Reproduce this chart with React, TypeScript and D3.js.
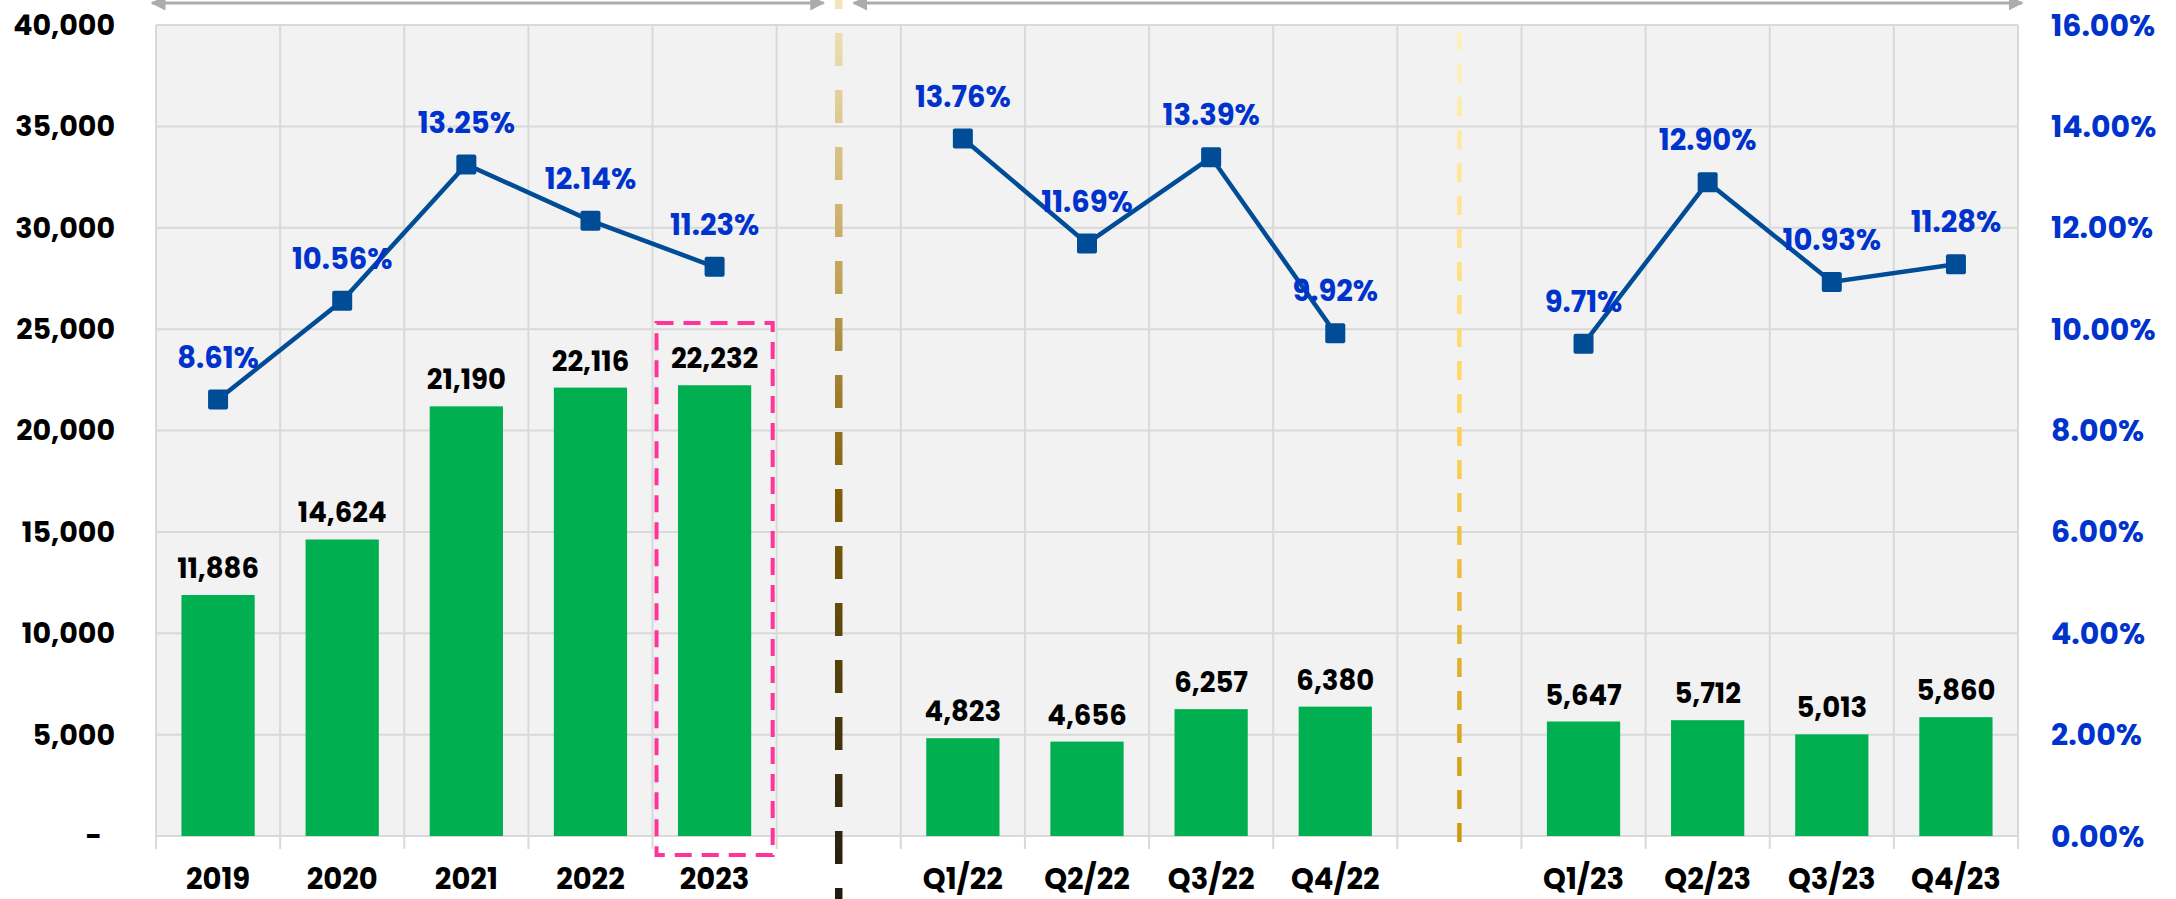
import React from "react";
import * as d3 from "d3";

const yearCats = ["2019", "2020", "2021", "2022", "2023"];
const yearVolume = [11886, 14624, 21190, 22116, 22232];
const yearRate = [8.61, 10.56, 13.25, 12.14, 11.23];

const q22Cats = ["Q1/22", "Q2/22", "Q3/22", "Q4/22"];
const q22Volume = [4823, 4656, 6257, 6380];
const q22Rate = [13.76, 11.69, 13.39, 9.92];

const q23Cats = ["Q1/23", "Q2/23", "Q3/23", "Q4/23"];
const q23Volume = [5647, 5712, 5013, 5860];
const q23Rate = [9.71, 12.9, 10.93, 11.28];

const leftTicks = [0, 5000, 10000, 15000, 20000, 25000, 30000, 35000, 40000];
const rightTicks = [0, 0.02, 0.04, 0.06, 0.08, 0.1, 0.12, 0.14, 0.16];

const GAP1 = "gap-1";
const GAP2 = "gap-2";

const W = 2176;
const H = 899;
const FONT = "Poppins, Inter, 'Noto Sans', sans-serif";

type Pt = { cat: string; vol: number; rate: number };

const groups: Pt[][] = [
  yearCats.map((c, i) => ({ cat: c, vol: yearVolume[i], rate: yearRate[i] / 100 })),
  q22Cats.map((c, i) => ({ cat: c, vol: q22Volume[i], rate: q22Rate[i] / 100 })),
  q23Cats.map((c, i) => ({ cat: c, vol: q23Volume[i], rate: q23Rate[i] / 100 })),
];

export default function App() {
  const domain = [...yearCats, GAP1, ...q22Cats, GAP2, ...q23Cats];
  const x = d3.scaleBand<string>().domain(domain).range([156, 2018]).padding(0);
  const yL = d3.scaleLinear().domain([0, 40000]).range([836, 25]);
  const yR = d3.scaleLinear().domain([0, 0.16]).range([836, 25]);
  const bw = x.bandwidth();
  const barW = bw * 0.59;
  const all = groups.flat();
  const fmt = d3.format(",");
  const pct = d3.format(".2%");
  const line = d3
    .line<Pt>()
    .x((d) => (x(d.cat) as number) + bw / 2)
    .y((d) => yR(d.rate));

  const plotL = x.range()[0];
  const plotR = x.range()[1];
  const boundaries = d3.range(domain.length + 1).map((i) => plotL + i * bw);
  const div1 = (x(GAP1) as number) + bw / 2;
  const div2 = (x(GAP2) as number) + bw / 2;
  const x2023 = x("2023") as number;

  return (
    <svg
      width={W}
      height={H}
      style={{ position: "absolute", left: 0, top: 0, background: "#fff" }}
      fontFamily={FONT}
    >
      <defs>
        <linearGradient id="divGrad1" gradientUnits="userSpaceOnUse" x1="0" y1="0" x2="0" y2={H}>
          <stop offset="0%" stopColor="#F3E6BE" />
          <stop offset="30%" stopColor="#C4A55A" />
          <stop offset="55%" stopColor="#7E5E07" />
          <stop offset="100%" stopColor="#1F1A12" />
        </linearGradient>
        <linearGradient id="divGrad2" gradientUnits="userSpaceOnUse" x1="0" y1="30" x2="0" y2="856">
          <stop offset="0%" stopColor="#FFF0C2" />
          <stop offset="45%" stopColor="#FFD75E" />
          <stop offset="100%" stopColor="#C9960C" />
        </linearGradient>
        <marker id="arrowHead" viewBox="0 0 10 10" refX="9" refY="5" markerWidth="5" markerHeight="5" orient="auto-start-reverse" markerUnits="strokeWidth">
          <path d="M0,0 L10,5 L0,10 z" fill="#AFABAB" />
        </marker>
      </defs>

      {/* plot background */}
      <rect x={plotL} y={yL(40000)} width={plotR - plotL} height={yL(0) - yL(40000)} fill="#F2F2F2" />

      {/* horizontal gridlines */}
      {leftTicks.map((t) => (
        <line key={"h" + t} x1={plotL} x2={plotR} y1={yL(t)} y2={yL(t)} stroke="#D9D9D9" strokeWidth={2} />
      ))}
      {/* vertical gridlines */}
      {boundaries.map((b, i) => (
        <line key={"v" + i} x1={b} x2={b} y1={yL(40000)} y2={yL(0) + 13} stroke="#D9D9D9" strokeWidth={2} />
      ))}

      {/* bars */}
      {all.map((d) => (
        <rect
          key={"b" + d.cat}
          x={(x(d.cat) as number) + (bw - barW) / 2}
          y={yL(d.vol)}
          width={barW}
          height={yL(0) - yL(d.vol)}
          fill="#00B050"
        />
      ))}

      {/* bar labels */}
      {all.map((d) => (
        <text
          key={"bl" + d.cat}
          x={(x(d.cat) as number) + bw / 2}
          y={yL(d.vol) - 17}
          textAnchor="middle"
          fontSize={27.5}
          fontWeight={700}
          fill="#000"
        >
          {fmt(d.vol)}
        </text>
      ))}

      {/* highlight box for 2023 */}
      <rect
        x={x2023 + 4}
        y={yL(25300)}
        width={bw - 8}
        height={yL(0) + 19 - yL(25300)}
        fill="none"
        stroke="#FF3399"
        strokeWidth={4}
        strokeDasharray="17 10"
      />

      {/* lines */}
      {groups.map((g, i) => (
        <path key={"l" + i} d={line(g) as string} fill="none" stroke="#004C97" strokeWidth={4.5} />
      ))}
      {all.map((d) => (
        <rect
          key={"m" + d.cat}
          x={(x(d.cat) as number) + bw / 2 - 10}
          y={yR(d.rate) - 10}
          width={20}
          height={20}
          rx={2}
          fill="#004C97"
        />
      ))}
      {all.map((d) => (
        <text
          key={"rl" + d.cat}
          x={(x(d.cat) as number) + bw / 2}
          y={yR(d.rate) - 42}
          dy="0.35em"
          textAnchor="middle"
          fontSize={29}
          fontWeight={700}
          fill="#0033CC"
        >
          {pct(d.rate)}
        </text>
      ))}

      {/* dividers */}
      <line
        x1={div1}
        x2={div1}
        y1={0}
        y2={H}
        stroke="url(#divGrad1)"
        strokeWidth={7.5}
        strokeDasharray="33 24"
        strokeDashoffset={24}
      />
      <line
        x1={div2}
        x2={div2}
        y1={31}
        y2={856}
        stroke="url(#divGrad2)"
        strokeWidth={4.5}
        strokeDasharray="19 14"
      />

      {/* top arrows */}
      <line x1={plotL - 4} x2={div1 - 15} y1={3} y2={3} stroke="#AFABAB" strokeWidth={3} markerStart="url(#arrowHead)" markerEnd="url(#arrowHead)" />
      <line x1={div1 + 15} x2={plotR + 4} y1={3} y2={3} stroke="#AFABAB" strokeWidth={3} markerStart="url(#arrowHead)" markerEnd="url(#arrowHead)" />

      {/* left axis labels */}
      {leftTicks.map((t) =>
        t === 0 ? (
          <text key={"la" + t} x={102} y={yL(t)} dy="0.35em" textAnchor="end" fontSize={28.5} fontWeight={700} fill="#000">
            -
          </text>
        ) : (
          <text key={"la" + t} x={115} y={yL(t)} dy="0.35em" textAnchor="end" fontSize={28.5} fontWeight={700} fill="#000">
            {fmt(t)}
          </text>
        )
      )}

      {/* right axis labels */}
      {rightTicks.map((t) => (
        <text key={"ra" + t} x={2051} y={yR(t)} dy="0.35em" textAnchor="start" fontSize={30} fontWeight={700} fill="#0033CC">
          {pct(t)}
        </text>
      ))}

      {/* category labels */}
      {all.map((d) => (
        <text
          key={"c" + d.cat}
          x={(x(d.cat) as number) + bw / 2}
          y={879}
          dy="0.35em"
          textAnchor="middle"
          fontSize={29}
          fontWeight={700}
          fill="#000"
        >
          {d.cat}
        </text>
      ))}
    </svg>
  );
}
